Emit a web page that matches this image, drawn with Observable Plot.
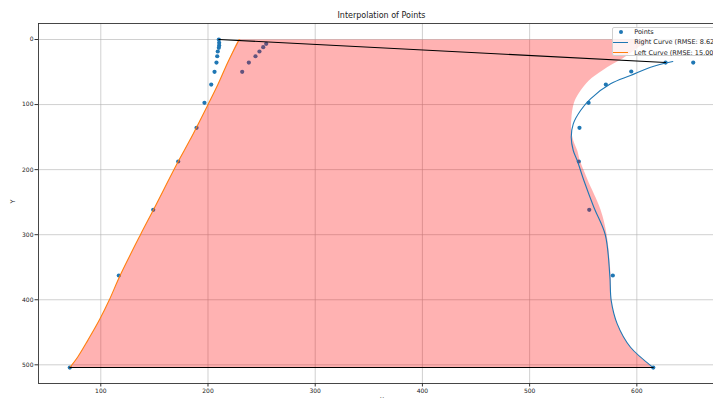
<!DOCTYPE html>
<html>
<head>
<meta charset="utf-8">
<script src="https://cdn.jsdelivr.net/npm/d3@7"></script>
<script src="https://cdn.jsdelivr.net/npm/@observablehq/plot@0.6"></script>
<style>
  html, body { margin: 0; padding: 0; background: #fff; overflow: hidden; }
  #wrap { position: relative; width: 741px; height: 410px; font-family: "DejaVu Sans", sans-serif; }
  #wrap svg { max-width: none !important; }
  #title { position: absolute; left: 38px; width: 687px; top: 11px; line-height: 10px; font-size: 8px; text-align: center; color: #222; }
  #legend { position: absolute; left: 611.7px; top: 26.7px; width: 140px; height: 29.8px; border: 0.8px solid #d0d0d0; border-radius: 2px; background: rgba(255,255,255,0.8); box-sizing: border-box; }
  .lg-text { position: absolute; font-size: 6.5px; line-height: 8px; color: #222; white-space: nowrap; }
  .lg-line { position: absolute; height: 1.2px; width: 15px; }
  .lg-dot { position: absolute; width: 4.2px; height: 4.2px; border-radius: 50%; }
</style>
</head>
<body>
<div id="wrap">
  <div id="title">Interpolation of Points</div>
</div>
<script>
// ---- data ----
const xTicks = [100, 200, 300, 400, 500, 600];
const yTicks = [0, 100, 200, 300, 400, 500];

const pointX = [210.1, 210.4, 210.4, 210.1, 209.1, 208.6, 207.9, 206.1, 203.0, 196.7, 189.3, 172.2, 148.9, 116.8, 71.1,
                254.3, 251.5, 248.0, 244.3, 238.1, 231.9,
                626.8, 652.6, 594.8, 571.1, 555.0, 546.5, 545.9, 555.6, 577.6, 615.3];
const pointY = [0, 5.1, 9.2, 12.8, 18.4, 25.7, 35.4, 49.6, 69.2, 97.3, 135.7, 187.5, 261.8, 362.7, 504.2,
                6.6, 11.8, 18.4, 25.7, 35.4, 49.6,
                35.4, 35.4, 49.2, 69.2, 97.3, 135.7, 187.5, 261.8, 362.7, 504.2];

const rightCurveX = [633.6, 612.8, 594.1, 575.5, 556.8, 547.5, 540.7, 538.8, 540.7, 544.4, 550.6, 559.9, 570.5, 574.8, 576.1, 581.7, 594.1, 615.3];
const rightCurveY = [33.8, 42.6, 55.3, 68.1, 91.1, 109.1, 129.6, 150.2, 170.6, 186.0, 216.7, 257.7, 299.7, 362.7, 401.2, 437.0, 473.0, 504.2];

const leftCurveX = [229.1, 218.5, 209.0, 200.0, 183.0, 172.2, 149.0, 137.0, 118.0, 108.0, 99.0, 88.0, 78.5, 71.1];
const leftCurveY = [0, 35, 70, 100, 155, 187.5, 262, 300, 362.7, 400, 430, 462, 488, 504.2];

// top edge of the shaded band (y = 0), then its right boundary downward
const fillTopX = [232, 600];
const fillTopY = [0, 0];
const fillRightX = [610.9, 603.4, 595.9, 586.6, 577.3, 567.7, 555.2, 547.5, 542.1, 539.7, 538.8, 538.8, 540.7, 544.4, 546.8, 550.5, 554.3, 566.1, 571.8, 575.5, 576.1, 581.7, 594.1, 615.3];
const fillRightY = [0, 9.2, 18.4, 29.2, 37.7, 47.6, 63.0, 78.4, 93.8, 109.1, 124.5, 139.9, 155.2, 170.6, 186.0, 201.4, 216.7, 261.3, 299.7, 362.7, 401.2, 437.0, 473.0, 504.2];

const topLineX = [210.1, 626.8];
const topLineY = [0, 35.4];
const bottomLineX = [71.1, 615.3];
const bottomLineY = [504.2, 504.2];

const legendLabels = ["Points", "Right Curve (RMSE: 8.62)", "Left Curve (RMSE: 15.00)"];
const legendColors = ["#1f77b4", "#1f77b4", "#ff7f0e"];

// ---- build tables ----
const zip = (xs, ys) => xs.map((x, i) => ({x, y: ys[i]}));
const points = zip(pointX, pointY);
const rightCurve = zip(rightCurveX, rightCurveY);
const leftCurve = zip(leftCurveX, leftCurveY);
const fillPoly = [...leftCurve.slice().reverse(), ...zip(fillTopX, fillTopY), ...zip(fillRightX, fillRightY)];
const topLine = zip(topLineX, topLineY);
const bottomLine = zip(bottomLineX, bottomLineY);

const chart = Plot.plot({
  width: 741,
  height: 410,
  marginTop: 23,
  marginBottom: 27,
  marginLeft: 38,
  marginRight: 16,
  style: {fontFamily: "DejaVu Sans, sans-serif", fontSize: "6px", color: "#222", background: "transparent", maxWidth: "none"},
  x: {domain: [41.9, 682.7]},
  y: {domain: [-24.6, 528.7], reverse: true},
  marks: [
    Plot.gridX(xTicks, {stroke: "#b0b0b0", strokeOpacity: 0.6, strokeWidth: 1}),
    Plot.gridY(yTicks, {stroke: "#b0b0b0", strokeOpacity: 0.6, strokeWidth: 1}),
    Plot.dot(points, {x: "x", y: "y", r: 2.1, fill: "#1f77b4", stroke: "none"}),
    Plot.line(fillPoly, {x: "x", y: "y", fill: "red", fillOpacity: 0.3, stroke: "none", curve: "catmull-rom"}),
    Plot.line(rightCurve, {x: "x", y: "y", stroke: "#1f77b4", strokeWidth: 1.1, curve: "catmull-rom"}),
    Plot.line(leftCurve, {x: "x", y: "y", stroke: "#ff7f0e", strokeWidth: 1.1, curve: "catmull-rom"}),
    Plot.line(topLine, {x: "x", y: "y", stroke: "black", strokeWidth: 1.1}),
    Plot.line(bottomLine, {x: "x", y: "y", stroke: "black", strokeWidth: 1.1}),
    Plot.axisX(xTicks, {anchor: "bottom", tickSize: 3.5, tickPadding: 2, label: null, stroke: "#333", fill: "#222"}),
    Plot.axisY(yTicks, {anchor: "left", tickSize: 3.5, tickPadding: 1.5, label: null, stroke: "#333", fill: "#222"}),
    Plot.frame({stroke: "#333", strokeWidth: 0.9}),
    Plot.text(["Y"], {frameAnchor: "left", dx: -25.3, rotate: -90, fontSize: 6.5, fill: "#222"}),
    Plot.text(["X"], {frameAnchor: "bottom", dy: 13.5, lineAnchor: "top", fontSize: 6.5, fill: "#222"})
  ]
});
chart.style.position = "absolute";
chart.style.left = "0px";
chart.style.top = "0px";
const wrap = document.getElementById("wrap");
wrap.appendChild(chart);

// ---- legend (HTML, overlaid like matplotlib's legend box) ----
const legend = document.createElement("div");
legend.id = "legend";
const entryY = [31.7, 42.3, 52.7];
legendLabels.forEach((label, i) => {
  const cy = entryY[i] - 26.7 - 0.8;
  if (i === 0) {
    const d = document.createElement("div");
    d.className = "lg-dot";
    d.style.background = legendColors[i];
    d.style.left = (621 - 611.7 - 0.8 - 2.1) + "px";
    d.style.top = (cy - 2.1) + "px";
    legend.appendChild(d);
  } else {
    const l = document.createElement("div");
    l.className = "lg-line";
    l.style.background = legendColors[i];
    l.style.left = (613.3 - 611.7 - 0.8) + "px";
    l.style.top = (cy - 0.6) + "px";
    legend.appendChild(l);
  }
  const t = document.createElement("div");
  t.className = "lg-text";
  t.textContent = label;
  t.style.left = (634 - 611.7 - 0.8) + "px";
  t.style.top = (cy - 4) + "px";
  legend.appendChild(t);
});
wrap.appendChild(legend);
</script>
</body>
</html>
